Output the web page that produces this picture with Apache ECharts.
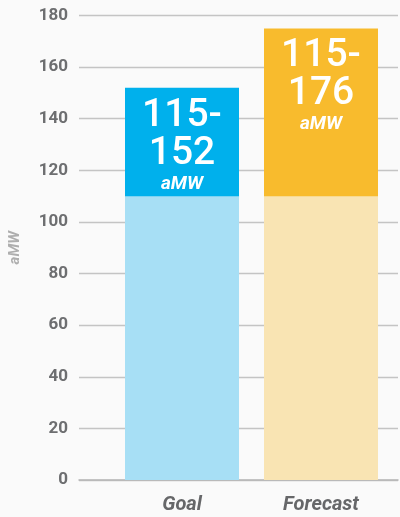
<!DOCTYPE html>
<html><head><meta charset="utf-8">
<script src="https://cdn.jsdelivr.net/npm/echarts@6/dist/echarts.min.js"></script>
<style>html,body{margin:0;padding:0;background:#fafafa}#c{width:400px;height:517px}</style>
</head><body><div id="c"></div>
<script>
const categories = ['Goal', 'Forecast'];
const baseValues = [110, 110];
const topValues = [152, 175];
const rangeLabels = ['115-\n152', '115-\n176'];
const yTicks = { min: 0, max: 180, interval: 20 };
const unit = 'aMW';

const chart = echarts.init(document.getElementById('c'));
const font = 'Roboto, "Liberation Sans", sans-serif';
chart.setOption({
  backgroundColor: '#fafafa',
  animation: false,
  grid: [
    { left: 77, right: 2, top: 15.5, bottom: 37 },
    { left: 112.5, right: 9.5, top: 15.5, bottom: 37 }
  ],
  xAxis: [
    { gridIndex: 0, type: 'category', data: categories, axisLabel: { show: false }, axisTick: { show: false },
      axisLine: { lineStyle: { color: '#b5b5b5', width: 1.5 } } },
    { gridIndex: 1, type: 'category', data: categories, axisTick: { show: false }, axisLine: { show: false },
      axisLabel: { color: '#666769', fontSize: 20, fontStyle: 'italic', fontWeight: 'bold', fontFamily: font, margin: 15 } }
  ],
  yAxis: [
    { gridIndex: 0, type: 'value', min: yTicks.min, max: yTicks.max, interval: yTicks.interval,
      name: unit, nameLocation: 'middle', nameGap: 56, nameRotate: 90,
      nameTextStyle: { color: '#aeaeae', fontSize: 15, fontStyle: 'italic', fontWeight: 'bold', fontFamily: font },
      axisLabel: { color: '#6d6e70', fontSize: 17, fontWeight: 'bold', fontFamily: font, margin: 11 },
      axisLine: { show: false }, axisTick: { show: false },
      splitLine: { lineStyle: { color: '#c4c4c4', width: 1.3 } } },
    { gridIndex: 1, type: 'value', min: yTicks.min, max: yTicks.max, interval: yTicks.interval, show: false }
  ],
  series: [
    { type: 'bar', xAxisIndex: 1, yAxisIndex: 1, barWidth: 114, barGap: '-100%', z: 2,
      data: baseValues.map((v, i) => ({ value: v, itemStyle: { color: i === 0 ? '#a7dff5' : '#f9e4b3' } })) },
    { type: 'bar', xAxisIndex: 1, yAxisIndex: 1, barWidth: 114, z: 1,
      data: topValues.map((v, i) => ({ value: v, itemStyle: { color: i === 0 ? '#00b0ec' : '#f8bb2d' } })),
      label: { show: true, position: 'insideTop', distance: 9,
        formatter: p => '{n|' + rangeLabels[p.dataIndex].replace('\n', '}\n{n|') + '}\n{u|' + unit + '}',
        rich: {
          n: { color: '#fff', fontSize: 39, lineHeight: 38, fontFamily: font, fontWeight: 500 },
          u: { color: '#fff', fontSize: 19, lineHeight: 22, fontFamily: font, fontStyle: 'italic', fontWeight: 'bold' }
        } } }
  ]
});
</script></body></html>
